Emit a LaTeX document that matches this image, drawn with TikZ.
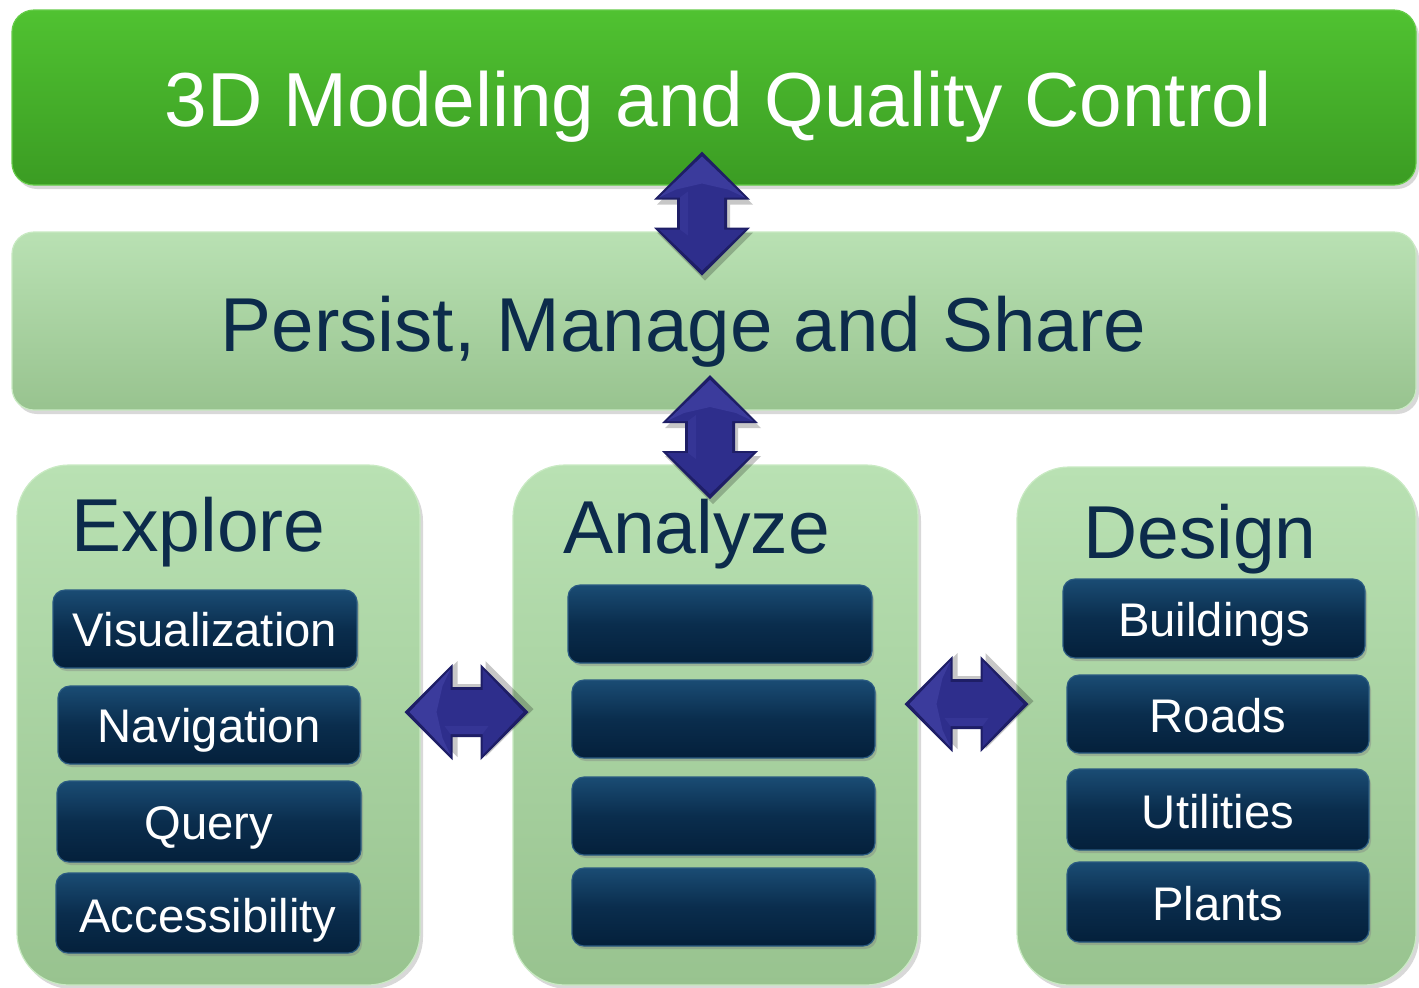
\documentclass[tikz,border=0pt]{standalone}
\usepackage{fontspec}
\setmainfont{Liberation Sans}
\usetikzlibrary{fit,shadows}
\definecolor{gTop}{HTML}{50C231}
\definecolor{gBot}{HTML}{3B9C23}
\definecolor{gEdge}{HTML}{66CC4A}
\definecolor{pTop}{HTML}{B9E1B3}
\definecolor{pBot}{HTML}{98C38F}
\definecolor{pEdge}{HTML}{C9EAC3}
\definecolor{bTop}{HTML}{1A4C74}
\definecolor{bMid}{HTML}{0A2D4D}
\definecolor{bBot}{HTML}{04203B}
\definecolor{bEdge}{HTML}{2B5B82}
\definecolor{navy}{HTML}{0C2B4B}
\definecolor{arrFill}{HTML}{2E2E8C}
\definecolor{arrEdge}{HTML}{1E1E66}
\definecolor{arrLight}{HTML}{4444A8}
\begin{document}
\begin{tikzpicture}[x=0.5pt,y=-0.5pt,
  bigbar/.style={rectangle, rounded corners=11pt, inner sep=0pt,
    drop shadow={opacity=0.3, shadow xshift=1.5pt, shadow yshift=-2pt}},
  greenbar/.style={bigbar, top color=gTop, bottom color=gBot, draw=gEdge, line width=0.6pt},
  palebar/.style={bigbar, top color=pTop, bottom color=pBot, draw=pEdge, line width=0.6pt},
  panel/.style={palebar, rounded corners=26pt},
  btn/.style={rectangle, rounded corners=6pt, inner sep=0pt,
    top color=bTop, bottom color=bBot, middle color=bMid, draw=bEdge, line width=0.6pt,
    drop shadow={opacity=0.4, shadow xshift=1pt, shadow yshift=-1.5pt}},
  title/.style={font=\fontsize{37.5}{40}\selectfont, text=navy, inner sep=0pt, anchor=base},
  btntext/.style={font=\fontsize{23.6}{26}\selectfont, text=white, inner sep=0pt, anchor=base},
  dblarrow/.pic={
    \fill[black, opacity=0.22, shift={(3,5)}] (0,-62) -- (48,-14) -- (25,-14) -- (25,14) -- (48,14) -- (0,62) -- (-48,14) -- (-25,14) -- (-25,-14) -- (-48,-14) -- cycle;
    \fill[arrEdge] (0,-62) -- (48,-14) -- (25,-14) -- (25,14) -- (48,14) -- (0,62) -- (-48,14) -- (-25,14) -- (-25,-14) -- (-48,-14) -- cycle;
    \fill[arrFill] (0,-57) -- (43,-16) -- (22,-16) -- (22,16) -- (43,16) -- (0,57) -- (-43,16) -- (-22,16) -- (-22,-16) -- (-43,-16) -- cycle;
    \fill[arrLight, opacity=0.6] (0,-57) -- (43,-16) -- (26,-24) -- (0,-30) -- (-26,-24) -- (-43,-16) -- cycle;
    \fill[arrLight, opacity=0.35] (-22,-16) -- (-14,-22) -- (-14,22) -- (-22,16) -- cycle;
  }]
\useasboundingbox (0,0) rectangle (1419,987);
\fill[white] (0,0) rectangle (1419,987);

% top bars
\node[greenbar, fit={(12,10) (1416,185)}] (model) {};
\node[palebar, fit={(12,232) (1416,410)}] (persist) {};
\node[title, text=white, font=\fontsize{38.3}{40}\selectfont] (modelt) at (718,126) {3D Modeling and Quality Control};
\node[title, font=\fontsize{38.2}{40}\selectfont] (persistt) at (683.5,351) {Persist, Manage and Share};

% panels
\node[panel, fit={(17,465) (420,985)}] (explore) {};
\node[panel, fit={(513,465) (918,985)}] (analyze) {};
\node[panel, fit={(1017,467) (1416,985)}] (design) {};
\node[title] (exploret) at (198.5,551) {Explore};
\node[title] (analyzet) at (696.5,553) {Analyze};
\node[title] (designt) at (1200,558) {Design};

% explore buttons
\node[btn, fit={(53,590) (357,668)}] (vis) {};
\node[btn, fit={(58,686) (360,764)}] (nav) {};
\node[btn, fit={(57,781) (361,862)}] (qry) {};
\node[btn, fit={(56,873) (360,953)}] (acc) {};
\node[btntext] (vist) at ([yshift=-8.8pt]vis.center) {Visualization};
\node[btntext] (navt) at ([yshift=-8.8pt]nav.center) {Navigation};
\node[btntext] (qryt) at ([yshift=-9pt]qry.center) {Query};
\node[btntext] (acct) at ([yshift=-9.5pt]acc.center) {Accessibility};

% analyze buttons
\node[btn, fit={(568,585) (872,663)}] (an1) {};
\node[btn, fit={(572,680) (875,758)}] (an2) {};
\node[btn, fit={(572,777) (875,855)}] (an3) {};
\node[btn, fit={(572,868) (875,946)}] (an4) {};

% design buttons
\node[btn, fit={(1063,579) (1365,658)}] (bld) {};
\node[btn, fit={(1067,675) (1369,753)}] (rds) {};
\node[btn, fit={(1067,769) (1369,850)}] (utl) {};
\node[btn, fit={(1067,862) (1369,942)}] (plt) {};
\node[btntext] (bldt) at ([yshift=-9pt]bld.center) {Buildings};
\node[btntext] (rdst) at ([yshift=-9pt]rds.center) {Roads};
\node[btntext] (utlt) at ([yshift=-9.3pt]utl.center) {Utilities};
\node[btntext] (pltt) at ([yshift=-9.3pt]plt.center) {Plants};

% double arrows
\pic (a1) at (702,213.5) {dblarrow};
\pic (a2) at (710,437) {dblarrow};
\pic[rotate=90] (a3) at (466.5,712) {dblarrow};
\pic[rotate=90] (a4) at (966.5,704) {dblarrow};
\end{tikzpicture}
\end{document}
